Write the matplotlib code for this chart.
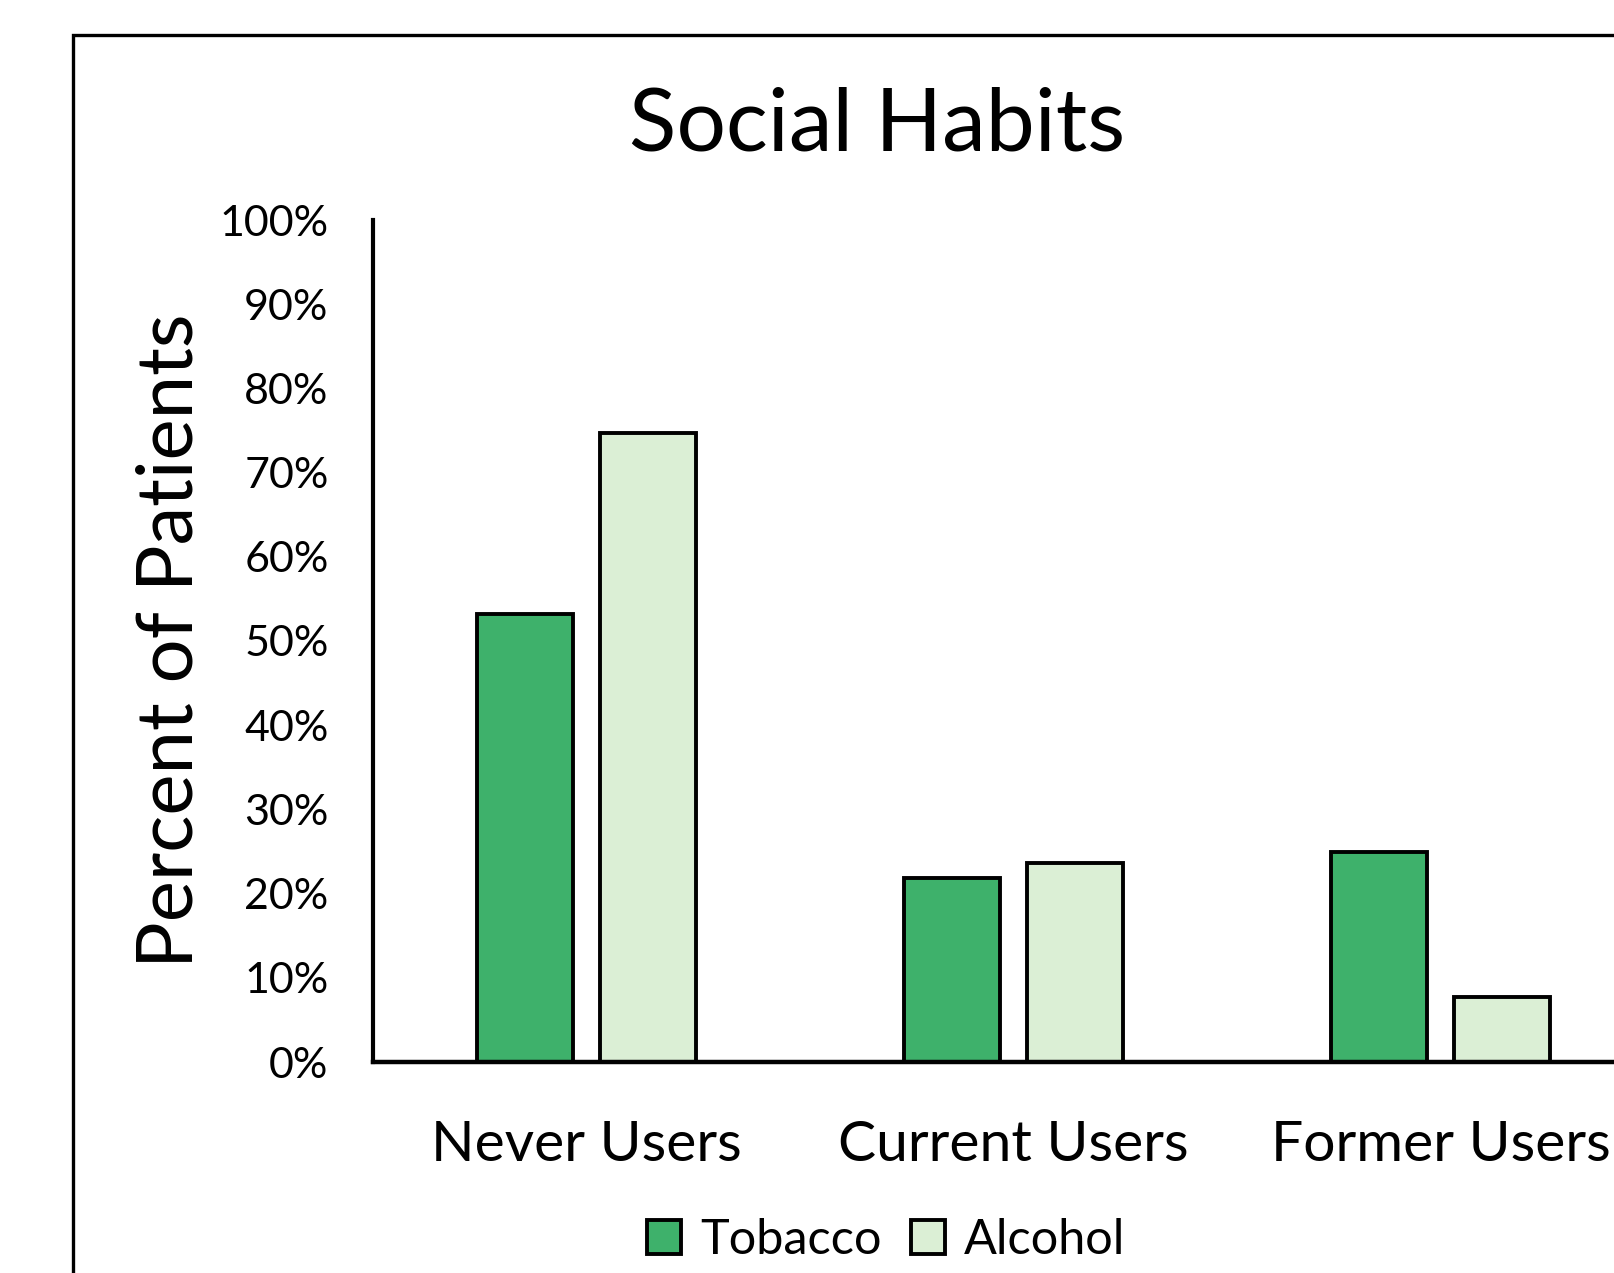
import matplotlib.pyplot as plt
import numpy as np
from matplotlib.patches import Rectangle

# Data (percent of patients)
categories = ['Never Users', 'Current Users', 'Former Users']
tobacco = [53.2, 21.9, 25.0]
alcohol = [74.7, 23.6, 7.7]
yticks = [0, 10, 20, 30, 40, 50, 60, 70, 80, 90, 100]

green = '#3EB16B'
light = '#DBEFD5'

plt.rcParams['font.family'] = ['Lato', 'DejaVu Sans']

W, H = 1615, 1273
fig = plt.figure(figsize=(W / 100, H / 100), dpi=100)

# outer frame (cut off on the right and bottom like the original)
fig.patches.append(Rectangle((73 / W, -0.1), 1.2, 1 - 35 / H + 0.1,
                             transform=fig.transFigure, fill=False,
                             edgecolor='black', linewidth=2.4))

# axes placed so that x axis runs past the right edge
ax_left = 373 / W
ax_bottom = 1 - 1062 / H
ax_width = 1281 / W
ax_height = (1062 - 220) / H
ax = fig.add_axes([ax_left, ax_bottom, ax_width, ax_height])

x = np.arange(len(categories))
bw = 0.224
off = 0.1435
ax.bar(x - off, tobacco, bw, color=green, edgecolor='black', linewidth=2.8,
       label='Tobacco', zorder=2)
ax.bar(x + off, alcohol, bw, color=light, edgecolor='black', linewidth=2.8,
       label='Alcohol', zorder=2)

ax.set_xlim(-0.5, 2.5)
ax.set_ylim(0, 100)
ax.set_yticks(yticks)
ax.set_yticklabels([f'{v}%' for v in yticks], fontsize=31)
ax.set_xticks(x)
ax.set_xticklabels(categories, fontsize=41)
ax.tick_params(axis='y', length=0, pad=32)
ax.tick_params(axis='x', length=0, pad=42)

for s in ['top', 'right']:
    ax.spines[s].set_visible(False)
ax.spines['left'].set_linewidth(3)
ax.spines['bottom'].set_linewidth(3.2)
ax.spines['left'].set_zorder(3)
ax.spines['bottom'].set_zorder(3)

ax.set_ylabel('Percent of Patients', fontsize=56, labelpad=9)

fig.text(877 / W, 1 - 126 / H, 'Social Habits', fontsize=63,
         ha='center', va='center')

fig.legend(loc='center', bbox_to_anchor=(886 / W, 1 - 1240 / H),
           ncol=2, frameon=False, fontsize=35, handlelength=0.7,
           handleheight=0.7, handletextpad=0.4, columnspacing=0.6)

fig.savefig('out.png', dpi=100)
